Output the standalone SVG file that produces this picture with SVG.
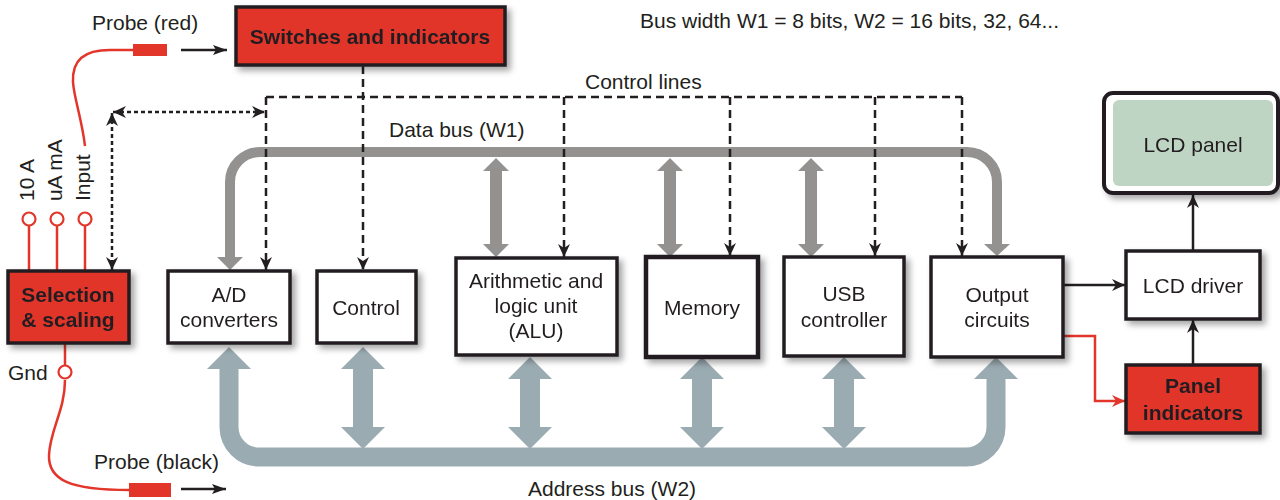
<svg xmlns="http://www.w3.org/2000/svg" width="1280" height="500" viewBox="0 0 1280 500">
<defs>
<style>
text{font-family:"Liberation Sans",Arial,sans-serif;font-size:21px;fill:#231f20}
.c{text-anchor:middle}
.b{font-weight:bold}
.box{fill:#fff;stroke:#231f20;stroke-width:3.5}
.red{fill:#e2362a;stroke:#231f20;stroke-width:3.5}
.wire{fill:none;stroke:#e2362a;stroke-width:2.5}
.dash{fill:none;stroke:#231f20;stroke-width:2.5;stroke-dasharray:8 5}
.dot{fill:none;stroke:#231f20;stroke-width:2.5;stroke-dasharray:4 3}
.blk{fill:none;stroke:#231f20;stroke-width:2.5}
.dbus{fill:#949191}
.abus{fill:#9aabb2}
</style>
<filter id="sh" x="-20%" y="-20%" width="150%" height="150%">
<feDropShadow dx="4" dy="4" stdDeviation="3" flood-color="#000" flood-opacity="0.35"/>
</filter>
<marker id="arr" markerUnits="userSpaceOnUse" markerWidth="14" markerHeight="12" refX="13" refY="6" orient="auto">
<path d="M0,0 L13,6 L0,12 L4,6 z" fill="#231f20"/>
</marker>
<marker id="arrB" markerUnits="userSpaceOnUse" markerWidth="14" markerHeight="12" refX="13" refY="6" orient="auto-start-reverse">
<path d="M0,0 L13,6 L0,12 L4,6 z" fill="#231f20"/>
</marker>
<marker id="arrR" markerUnits="userSpaceOnUse" markerWidth="14" markerHeight="12" refX="13" refY="6" orient="auto">
<path d="M0,0 L13,6 L0,12 L4,6 z" fill="#e2362a"/>
</marker>
<marker id="arrS" markerUnits="userSpaceOnUse" markerWidth="14" markerHeight="10" refX="14" refY="5" orient="auto">
<path d="M0,0 L14,5 L0,10 L3,5 z" fill="#231f20"/>
</marker>
</defs>
<rect width="1280" height="500" fill="#fff"/>

<!-- free labels -->
<text x="92" y="30">Probe (red)</text>
<text x="94" y="469">Probe (black)</text>
<text x="8" y="380">Gnd</text>
<text x="640" y="28">Bus width W1 = 8 bits, W2 = 16 bits, 32, 64...</text>
<text x="585" y="89">Control lines</text>
<text x="389" y="137">Data bus (W1)</text>
<text x="528" y="496">Address bus (W2)</text>
<text transform="translate(34,201) rotate(-90)">10 A</text>
<text transform="translate(62,201) rotate(-90)">uA mA</text>
<text transform="translate(90,201) rotate(-90)">Input</text>

<!-- connectors -->
<g id="connectors">
<!-- data bus -->
<path d="M230,258 V182 A30,30 0 0 1 260,152 H967 A30,30 0 0 1 997,182 V245" fill="none" stroke="#949191" stroke-width="10"/>
<polygon class="dbus" points="217,257 243,257 230,270"/>
<polygon class="dbus" points="984,244 1010,244 997,256"/>
<polygon class="dbus" points="496,158 509,171 502,171 502,244 509,244 496,257 483,244 490,244 490,171 483,171"/>
<polygon class="dbus" points="670,158 683,171 676,171 676,244 683,244 670,257 657,244 664,244 664,171 657,171"/>
<polygon class="dbus" points="811,158 824,171 817,171 817,244 824,244 811,257 798,244 805,244 805,171 798,171"/>
<!-- address bus -->
<path d="M229,367 V427 A30,30 0 0 0 259,457 H966 A30,30 0 0 0 996,427 V377" fill="none" stroke="#9aabb2" stroke-width="19"/>
<polygon class="abus" points="229,347 251,369 207,369"/>
<polygon class="abus" points="996,357 1018,379 974,379"/>
<polygon class="abus" points="363,347 385,369 373,369 373,427 385,427 363,449 341,427 353,427 353,369 341,369"/>
<polygon class="abus" points="530,357 552,379 540,379 540,427 552,427 530,449 508,427 520,427 520,379 508,379"/>
<polygon class="abus" points="702,357 724,379 712,379 712,427 724,427 702,449 680,427 692,427 692,379 680,379"/>
<polygon class="abus" points="844,357 866,379 854,379 854,427 866,427 844,449 822,427 834,427 834,379 822,379"/>
<!-- control lines -->
<path class="dash" d="M266,97 H962"/>
<path class="dash" d="M266,97 V270" marker-end="url(#arr)"/>
<path class="dash" d="M363,66 V270" marker-end="url(#arr)"/>
<path class="dash" d="M564,97 V257" marker-end="url(#arr)"/>
<path class="dash" d="M730,97 V256" marker-end="url(#arr)"/>
<path class="dash" d="M875,97 V256" marker-end="url(#arr)"/>
<path class="dash" d="M962,97 V256" marker-end="url(#arr)"/>
<!-- dotted -->
<path class="dot" d="M112,113 V270" marker-start="url(#arrB)" marker-end="url(#arrB)"/>
<path class="dot" d="M113,112 H265" marker-start="url(#arrB)" marker-end="url(#arrB)"/>
<!-- wires -->
<path class="wire" d="M85,146 C82,120 74,98 73,82 C72,60 84,50 110,50 H133"/>
<path class="wire" d="M65,380 C65,410 50,430 49,455 C48,480 70,490 129,490"/>
<path class="wire" d="M29,226 V271 M57,226 V271 M85,226 V271 M65,343 V365"/>
<circle cx="29" cy="219" r="6.5" fill="#fff" stroke="#e2362a" stroke-width="2.2"/>
<circle cx="57" cy="219" r="6.5" fill="#fff" stroke="#e2362a" stroke-width="2.2"/>
<circle cx="85" cy="219" r="6.5" fill="#fff" stroke="#e2362a" stroke-width="2.2"/>
<circle cx="65" cy="372" r="6.5" fill="#fff" stroke="#e2362a" stroke-width="2.2"/>
<rect x="133" y="44" width="34" height="12" fill="#e2362a"/>
<rect x="129" y="483" width="42" height="14" fill="#e2362a"/>
<path class="blk" d="M181,50 H227" marker-end="url(#arrS)"/>
<path class="blk" d="M181,489 H226" marker-end="url(#arrS)"/>
<path class="blk" d="M1064,285 H1125" marker-end="url(#arr)"/>
<path class="blk" d="M1193,251 V195" marker-end="url(#arr)"/>
<path class="blk" d="M1193,364 V320" marker-end="url(#arr)"/>
<path class="wire" d="M1064,336 H1095 V401 H1125" marker-end="url(#arrR)"/>
</g>

<!-- nodes -->
<g id="switches" filter="url(#sh)"><rect class="red" x="236" y="7" width="269" height="58"/><text class="c b" x="370" y="44">Switches and indicators</text></g>
<g id="selection" filter="url(#sh)"><rect class="red" x="8" y="271" width="121" height="72"/><text class="c b" x="68" y="302">Selection</text><text class="c b" x="68" y="327">&amp; scaling</text></g>
<g id="adc" filter="url(#sh)"><rect class="box" x="168" y="271" width="122" height="72"/><text class="c" x="229" y="302">A/D</text><text class="c" x="229" y="327">converters</text></g>
<g id="control" filter="url(#sh)"><rect class="box" x="317" y="271" width="99" height="72"/><text class="c" x="366" y="315">Control</text></g>
<g id="alu" filter="url(#sh)"><rect class="box" x="456" y="258" width="161" height="97"/><text class="c" x="536" y="288">Arithmetic and</text><text class="c" x="536" y="313">logic unit</text><text class="c" x="536" y="338">(ALU)</text></g>
<g id="memory" filter="url(#sh)"><rect class="box" x="646" y="257" width="112" height="100" style="stroke-width:4.5"/><text class="c" x="702" y="315">Memory</text></g>
<g id="usb" filter="url(#sh)"><rect class="box" x="784" y="257" width="120" height="99"/><text class="c" x="844" y="301">USB</text><text class="c" x="844" y="327">controller</text></g>
<g id="output" filter="url(#sh)"><rect class="box" x="931" y="257" width="132" height="100"/><text class="c" x="997" y="302">Output</text><text class="c" x="997" y="327">circuits</text></g>
<g id="lcddriver" filter="url(#sh)"><rect class="box" x="1126" y="251" width="134" height="68"/><text class="c" x="1193" y="293">LCD driver</text></g>
<g id="panelind" filter="url(#sh)"><rect class="red" x="1126" y="365" width="134" height="68"/><text class="c b" x="1193" y="393">Panel</text><text class="c b" x="1193" y="420">indicators</text></g>
<g id="lcdpanel" filter="url(#sh)"><rect x="1104" y="93" width="174" height="100" rx="9" fill="#fff" stroke="#231f20" stroke-width="4"/><rect x="1113" y="100" width="160" height="86" rx="6" fill="#bfd5c3"/><text class="c" x="1193" y="152">LCD panel</text></g>
</svg>
